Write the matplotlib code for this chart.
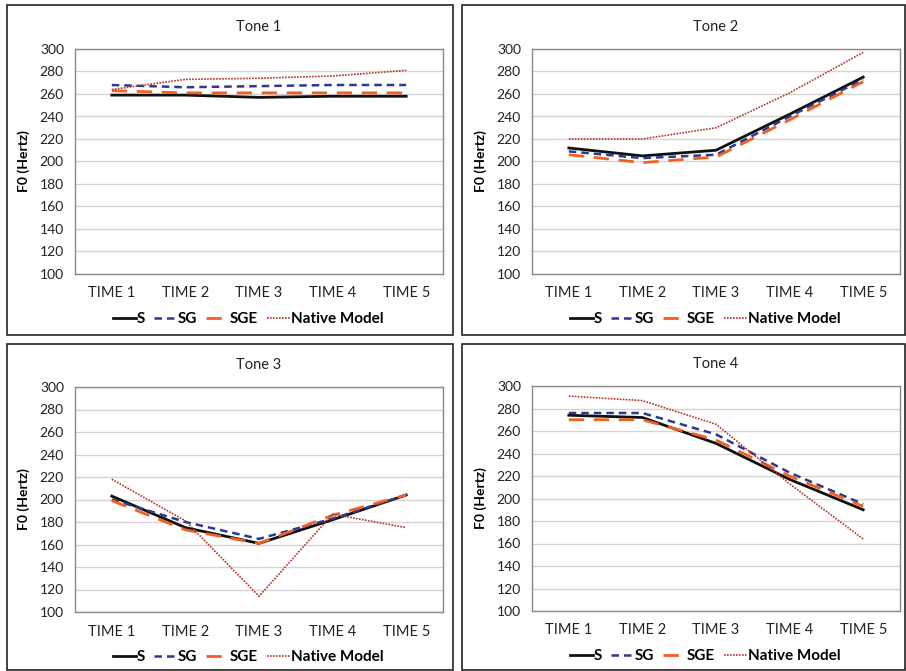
import matplotlib
matplotlib.use("Agg")
import matplotlib.pyplot as plt
from matplotlib.patches import Rectangle
from matplotlib.lines import Line2D

plt.rcParams['font.family'] = ['Lato', 'DejaVu Sans']

times = ["TIME 1", "TIME 2", "TIME 3", "TIME 4", "TIME 5"]
series_names = ["S", "SG", "SGE", "Native Model"]
titles = ["Tone 1", "Tone 2", "Tone 3", "Tone 4"]

tone1_S = [259, 259, 257, 258, 258]
tone1_SG = [268, 266, 267, 268, 268]
tone1_SGE = [263, 261, 261, 261, 261]
tone1_native = [264, 273, 274, 276, 281]

tone2_S = [212, 205, 210, 242, 275]
tone2_SG = [209, 203, 206, 240, 273]
tone2_SGE = [206, 199, 204, 237, 271]
tone2_native = [220, 220, 230, 261, 297]

tone3_S = [203, 175, 161, 182, 204]
tone3_SG = [200, 180, 165, 183, 204]
tone3_SGE = [199, 173, 161, 186, 204]
tone3_native = [218, 181, 114, 187, 175]

tone4_S = [274, 272, 249, 217, 190]
tone4_SG = [276, 276, 257, 223, 195]
tone4_SGE = [270, 270, 252, 220, 193]
tone4_native = [291, 287, 266, 213, 164]

data = [
    [tone1_S, tone1_SG, tone1_SGE, tone1_native],
    [tone2_S, tone2_SG, tone2_SGE, tone2_native],
    [tone3_S, tone3_SG, tone3_SGE, tone3_native],
    [tone4_S, tone4_SG, tone4_SGE, tone4_native],
]

yticks = list(range(100, 301, 20))

styles = [
    dict(color="#111111", lw=2.0, ls="-"),
    dict(color="#2b3a8c", lw=1.8, ls=(0, (3.0, 2.0))),
    dict(color="#f2601f", lw=2.0, ls=(0, (5.5, 3.5))),
    dict(color="#b5332a", lw=1.2, ls=(0, (1.0, 0.8))),
]

W, H = 906, 671
fig = plt.figure(figsize=(W / 100, H / 100), dpi=100)

# panel boxes (pixels): left, top, right, bottom
boxes = [(7, 5, 453, 335), (462, 5, 905, 335), (7, 344, 453, 670), (462, 344, 905, 670)]
# plot areas (pixels)
plots = [(75, 49, 443, 274), (532, 49, 900, 274), (75, 387, 443, 612), (532, 386, 900, 611)]

for i in range(4):
    l, t, r, b = boxes[i]
    fig.add_artist(Rectangle((l / W, 1 - b / H), (r - l) / W, (b - t) / H,
                             transform=fig.transFigure, fill=False,
                             edgecolor="#222222", lw=1.2))
    pl, pt, pr, pb = plots[i]
    ax = fig.add_axes([pl / W, 1 - pb / H, (pr - pl) / W, (pb - pt) / H])
    x = list(range(len(times)))
    for vals, st, name in zip(data[i], styles, series_names):
        ax.plot(x, vals, label=name, **st)
    ax.set_xlim(-0.5, len(times) - 0.5)
    ax.set_ylim(100, 300)
    ax.set_yticks(yticks)
    ax.set_xticks(x)
    ax.set_xticklabels(times, fontsize=10.5, color="#222222")
    ax.tick_params(axis="y", labelsize=10, colors="#222222", length=0, pad=8)
    ax.tick_params(axis="x", length=0, pad=9)
    ax.grid(axis="y", color="#d4d4d4", lw=1.0)
    ax.set_axisbelow(True)
    for s in ax.spines.values():
        s.set_color("#8a8a8a")
        s.set_linewidth(1.0)
    ax.set_ylabel("F0 (Hertz)", fontsize=10, fontweight="bold", labelpad=7)
    ax.set_title(titles[i], fontsize=10.5, pad=13, color="#222222")
    handles = [Line2D([], [], **st) for st in styles]
    ax.legend(handles, series_names, loc="center", bbox_to_anchor=(0.47, -0.2),
              ncol=4, frameon=False, handlelength=1.5, handletextpad=0.05,
              columnspacing=0.6, borderpad=0.0, prop=dict(size=11, weight="bold"))

fig.savefig("out.png", dpi=100, facecolor="white")
